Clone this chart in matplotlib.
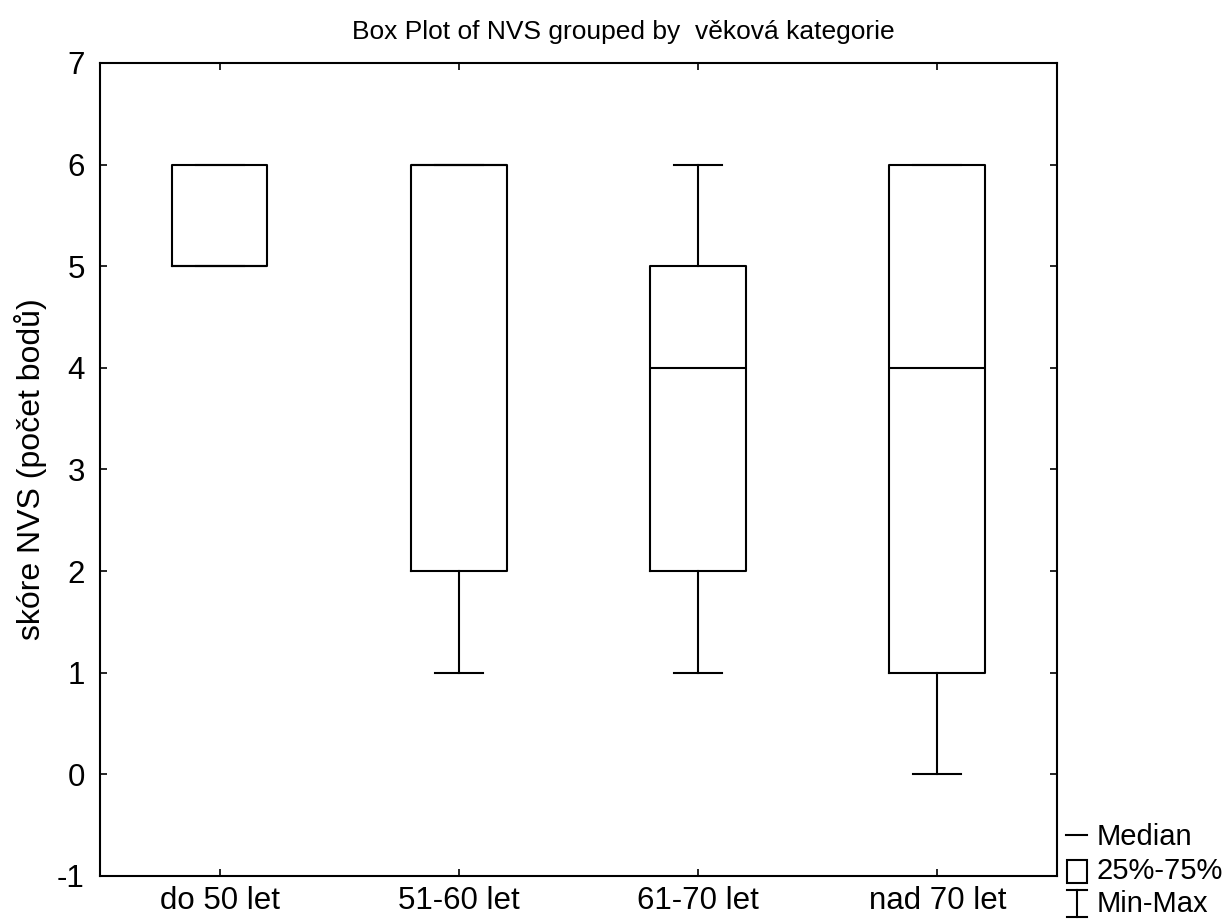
import matplotlib
matplotlib.use("Agg")
import matplotlib.pyplot as plt
from matplotlib.lines import Line2D
from matplotlib.patches import Rectangle

plt.rcParams["font.family"] = ["Liberation Sans", "DejaVu Sans"]

# Data
categories = ["do 50 let", "51-60 let", "61-70 let", "nad 70 let"]
mins = [5, 1, 1, 0]
q1s = [5, 2, 2, 1]
medians = [5, 6, 4, 4]
q3s = [6, 6, 5, 6]
maxs = [6, 6, 6, 6]
yticks = [-1, 0, 1, 2, 3, 4, 5, 6, 7]
legend_labels = ["Median", "25%-75%", "Min-Max"]

stats = []
for name, lo, a, m, b, hi in zip(categories, mins, q1s, medians, q3s, maxs):
    stats.append({"label": name, "whislo": lo, "q1": a, "med": m,
                  "q3": b, "whishi": hi, "fliers": []})

fig = plt.figure(figsize=(12.27, 9.22), dpi=100)
ax = fig.add_axes([0.0815, 0.0499, 0.7799, 0.8818])

lw = 1.5
ax.bxp(stats, positions=range(1, len(stats) + 1), widths=0.4,
       showfliers=False, patch_artist=False,
       boxprops=dict(color="black", linewidth=lw),
       medianprops=dict(color="black", linewidth=lw),
       whiskerprops=dict(color="black", linewidth=lw),
       capprops=dict(color="black", linewidth=lw),
       capwidths=0.2)

ax.set_xlim(0.5, len(stats) + 0.5)
ax.set_ylim(-1, 7)
ax.set_yticks(yticks)
ax.set_yticklabels([str(t) for t in yticks])
ax.set_xticks(range(1, len(stats) + 1))
ax.set_xticklabels(categories)
ax.tick_params(direction="in", length=5, width=1.2, top=True, right=True,
               labelsize=22.5)
ax.tick_params(axis="x", pad=7)
ax.tick_params(axis="y", pad=11)
for sp in ax.spines.values():
    sp.set_linewidth(1.5)

ax.set_ylabel("skóre NVS (počet bodů)", fontsize=23, labelpad=7)
fig.suptitle("Box Plot of NVS grouped by  věková kategorie", fontsize=19,
             x=0.508, y=0.978)

# legend drawn outside the axes
tf = fig.transFigure
W, H = 1227, 922
def fx(px):
    return px / W
def fy(py):
    return 1 - py / H

fig.add_artist(Line2D([fx(1066), fx(1087)], [fy(835), fy(835)],
                      color="black", lw=1.5, transform=tf))
fig.add_artist(Rectangle((fx(1067), fy(883)), fx(20), 23 / H, fill=False,
                         edgecolor="black", lw=1.5, transform=tf))
fig.add_artist(Line2D([fx(1077), fx(1077)], [fy(890), fy(917)],
                      color="black", lw=1.5, transform=tf))
fig.add_artist(Line2D([fx(1067), fx(1087)], [fy(890), fy(890)],
                      color="black", lw=1.5, transform=tf))
fig.add_artist(Line2D([fx(1067), fx(1087)], [fy(917), fy(917)],
                      color="black", lw=1.5, transform=tf))
for lab, py in zip(legend_labels, [837, 871, 904]):
    fig.text(fx(1097), fy(py), lab, fontsize=21, va="center", ha="left")

fig.savefig("out.png", dpi=100, facecolor="white")
